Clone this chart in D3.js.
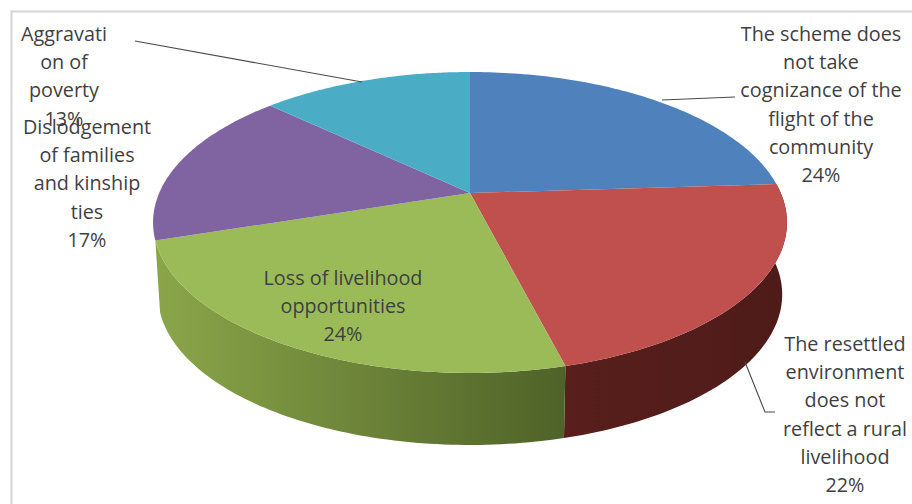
<!DOCTYPE html>
<html>
<head>
<meta charset="utf-8">
<style>
html,body{margin:0;padding:0;background:#fff}
svg{display:block}
text{font-family:"Open Sans",Lato,sans-serif;font-size:19.8px;fill:#3f3f3f;text-anchor:middle}
</style>
<script src="https://cdn.jsdelivr.net/npm/d3@7/dist/d3.min.js"></script>
</head>
<body>
<svg id="chart" width="912" height="504"></svg>
<script>
// Share of each resettlement concern, clockwise from twelve o'clock
const categories = [
  "The scheme does not take cognizance of the flight of the community",
  "The resettled environment does not reflect a rural livelihood",
  "Loss of livelihood opportunities",
  "Dislodgement of families and kinship ties",
  "Aggravation of poverty"
];
const shares = [24, 22, 24, 17, 13];
const topColors = ["#4f81bd", "#c0504d", "#9bbb59", "#8064a2", "#4bacc6"];
const wallLight = ["#3b6191", "#581f1c", "#8aa649", "#5f4a7a", "#38839a"];
const wallDark  = ["#2c4a70", "#4e1b19", "#4f6228", "#4a3a60", "#2b6678"];
// Only these slices show an outer wall to the viewer
const frontSlices = [1, 2];

// Labels as they wrap on the chart, with their box centres
const labelLines = [
  ["The scheme does", "not take", "cognizance of the", "flight of the", "community", "24%"],
  ["The resettled", "environment", "does not", "reflect a rural", "livelihood", "22%"],
  ["Loss of livelihood", "opportunities", "24%"],
  ["Dislodgement", "of families", "and kinship", "ties", "17%"],
  ["Aggravati", "on of", "poverty", "13%"]
];
const labelCentres = [[821, 35], [845, 345], [343, 279], [87, 128], [64, 35]];
const lineGap = 28.2;
const leaders = [
  [[662, 100], [735, 97]],
  [[745, 362], [765, 412], [775, 412]],
  [[135, 41], [362, 82]]
];

const svg = d3.select("#chart");

// Frame of the chart area, open at the bottom and on the right
svg.append("path")
  .attr("d", "M912,11.5H11.5V504")
  .attr("fill", "none").attr("stroke", "#d4d4d4").attr("stroke-width", 2);

// Tilted disc: plane coordinates on the unit circle map to the screen
// through a perspective divide, so the far half looks shorter.
const tilt = 0.196;
const sx = d3.scaleLinear().domain([0, 1]).range([470, 780.8]);
const sy = d3.scaleLinear().domain([0, 1]).range([193, 48.3]);
const depth = 72;
const baseShrink = 0.985;

function rim(angle) {
  const X = Math.sin(angle), Y = Math.cos(angle), w = 1 + tilt * Y;
  return [sx(X / w), sy(Y / w)];
}
function baseRim(angle) {
  const [x, y] = rim(angle);
  return [sx(0) + (x - sx(0)) * baseShrink, y + depth];
}
const arcSamples = (a0, a1) => d3.range(0, 81).map(i => a0 + (a1 - a0) * i / 80);
const line = d3.line();

const slices = d3.pie().sort(null).value(d => d)(shares);

// Outer wall of the front slices, lit from the left
const defs = svg.append("defs");
frontSlices.forEach(i => {
  const s = slices[i];
  const pts = arcSamples(s.startAngle, s.endAngle);
  const top = pts.map(rim), bottom = pts.map(baseRim).reverse();
  const xs = top.map(p => p[0]);
  defs.append("linearGradient")
    .attr("id", "wall" + i).attr("gradientUnits", "userSpaceOnUse")
    .attr("x1", d3.min(xs)).attr("x2", d3.max(xs)).attr("y1", 0).attr("y2", 0)
    .call(g => {
      g.append("stop").attr("offset", 0).attr("stop-color", wallLight[i]);
      g.append("stop").attr("offset", 1).attr("stop-color", wallDark[i]);
    });
  svg.append("path")
    .attr("d", line(top.concat(bottom)) + "Z")
    .attr("fill", `url(#wall${i})`);
});

// Top faces
slices.forEach((s, i) => {
  const outline = [[sx(0), sy(0)], ...arcSamples(s.startAngle, s.endAngle).map(rim)];
  svg.append("path")
    .attr("d", line(outline) + "Z")
    .attr("fill", topColors[i]);
});

// Leader lines
svg.selectAll("path.leader").data(leaders).join("path")
  .attr("class", "leader")
  .attr("d", line)
  .attr("fill", "none").attr("stroke", "#4a4a4a").attr("stroke-width", 1.1);

// Data labels, with later ones written over earlier ones
labelLines.forEach((lines, i) => {
  const [cx, cy] = labelCentres[i];
  const t = svg.append("text").attr("aria-label", categories[i]);
  lines.forEach((s, j) => {
    t.append("tspan").attr("x", cx).attr("y", cy + j * lineGap + 6).text(s);
  });
});
</script>
</body>
</html>
